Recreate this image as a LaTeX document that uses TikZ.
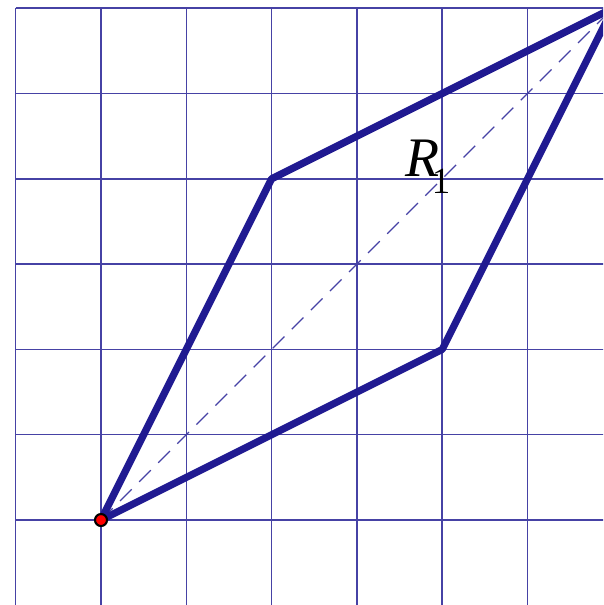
\documentclass[tikz,border=0pt]{standalone}
\usepackage{fontspec}
\usepackage{tikz}
\usetikzlibrary{positioning}
\newfontfamily\labelfont{Liberation Serif}

\definecolor{gridblue}{RGB}{70,66,165}
\definecolor{rhomb}{RGB}{32,26,145}

\begin{document}
\begin{tikzpicture}[x=1cm, y=1cm,
  gridline/.style={gridblue, line width=0.5pt},
  edge/.style={rhomb, line width=2.4pt, line join=round},
  diag/.style={gridblue, line width=0.4pt, dash pattern=on 5.5pt off 3.5pt},
  origin/.style={circle, draw=black, fill=red, line width=0.7pt, inner sep=0pt, minimum size=4pt}]
\clip (-1.184,-0.996) rectangle (5.885,6.096);
\draw[gridline] (-1,-1.5) grid (6.5,6);
% vertices
\coordinate (A) at (0,0);
\coordinate (B) at (2,4);
\coordinate (C) at (6,6);
\coordinate (D) at (4,2);
\draw[diag] (A) -- (C);
\draw[edge] (A) -- (B) -- (C) -- (D) -- cycle;
\node[anchor=base west, inner sep=0pt, font=\labelfont] (lab) at (3.56,4.03)
  {\fontsize{18.6}{20}\selectfont\itshape R\kern-2.5pt\raisebox{-5.7pt}{\fontsize{12.3}{14}\selectfont\upshape 1}};
\node[origin] (o) at (A) {};
\end{tikzpicture}
\end{document}
